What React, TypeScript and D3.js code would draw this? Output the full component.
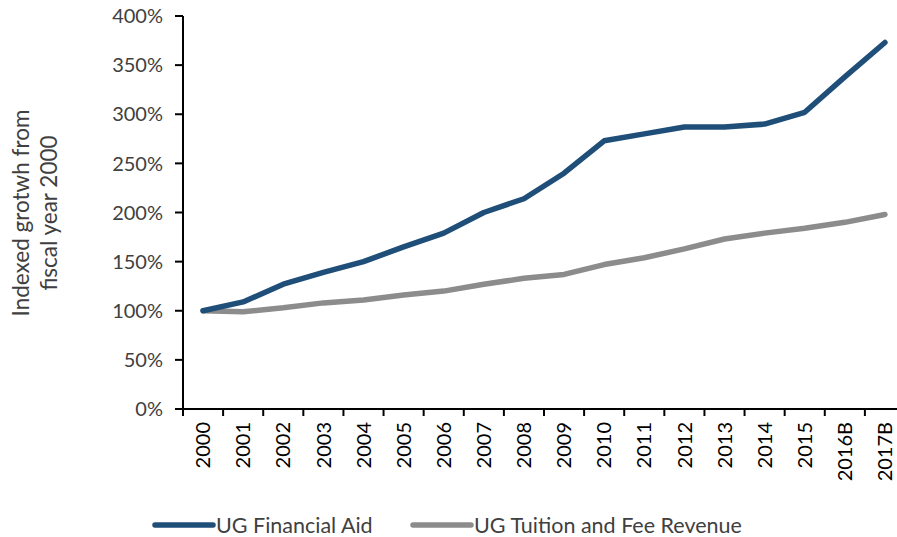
import React from 'react';
import * as d3 from 'd3';

const WIDTH = 897;
const HEIGHT = 537;
const margin = { top: 16, right: -8, bottom: 128, left: 183 };

// fiscal years on the x axis
const years = ['2000', '2001', '2002', '2003', '2004', '2005', '2006', '2007', '2008',
  '2009', '2010', '2011', '2012', '2013', '2014', '2015', '2016B', '2017B'];

// indexed growth, % of FY2000
const financialAid = [100, 109, 127, 139, 150, 165, 179, 200, 214, 240, 273, 280, 287, 287, 290, 302, 338, 373];
const tuitionRevenue = [100, 99, 103, 108, 111, 116, 120, 127, 133, 137, 147, 154, 163, 173, 179, 184, 190, 198];

const yTicks = [0, 50, 100, 150, 200, 250, 300, 350, 400];

const seriesNames = ['UG Financial Aid', 'UG Tuition and Fee Revenue'];
const seriesColors = ['#1F4E79', '#8C8C8C'];

const FONT = 'Lato, "Open Sans", sans-serif';
const TEXT_COLOR = '#404040';

const App = () => {
  const plotW = WIDTH - margin.left - margin.right;
  const plotH = HEIGHT - margin.top - margin.bottom;

  const x = d3.scaleBand().domain(years).range([margin.left, margin.left + plotW]);
  const y = d3.scaleLinear().domain([0, 400]).range([margin.top + plotH, margin.top]);

  const line = d3.line<number>()
    .x((_, i) => (x(years[i]) as number) + x.bandwidth() / 2)
    .y(d => y(d));

  const series = [financialAid, tuitionRevenue];
  const y0 = y(0);

  return (
    <svg width={WIDTH} height={HEIGHT} style={{ position: 'absolute', left: 0, top: 0, background: 'white' }}
      fontFamily={FONT}>
      {/* y axis */}
      <line x1={margin.left} x2={margin.left} y1={y(400)} y2={y0} stroke="#000" strokeWidth={2} />
      {yTicks.map(t => (
        <g key={t}>
          <line x1={margin.left - 8} x2={margin.left} y1={y(t)} y2={y(t)} stroke="#000" strokeWidth={2} />
          <text x={margin.left - 20} y={y(t)} dy="0.36em" textAnchor="end" fontSize={20} fill={TEXT_COLOR}>
            {t}%
          </text>
        </g>
      ))}

      {/* x axis */}
      <line x1={margin.left} x2={margin.left + plotW} y1={y0} y2={y0} stroke="#000" strokeWidth={2} />
      {years.map((yr, i) => {
        const bx = x(yr) as number;
        const cx = bx + x.bandwidth() / 2;
        return (
          <g key={yr}>
            <line x1={bx} x2={bx} y1={y0} y2={y0 + 7} stroke="#000" strokeWidth={2} />
            <text transform={`translate(${cx},${y0 + 13}) rotate(-90)`} dy="0.36em" textAnchor="end"
              fontSize={20} fill="#000">
              {yr}
            </text>
          </g>
        );
      })}

      {/* y axis title */}
      <text transform="translate(21,213) rotate(-90)" dy="0.36em" textAnchor="middle" fontSize={22.5} fill={TEXT_COLOR}>
        Indexed  grotwh from
      </text>
      <text transform="translate(49,213) rotate(-90)" dy="0.36em" textAnchor="middle" fontSize={22.5} fill={TEXT_COLOR}>
        fiscal year 2000
      </text>

      {/* lines: grey under blue */}
      {[1, 0].map(k => (
        <path key={k} d={line(series[k]) || ''} fill="none" stroke={seriesColors[k]} strokeWidth={5.5}
          strokeLinecap="round" strokeLinejoin="round" />
      ))}

      {/* legend */}
      {seriesNames.map((name, k) => {
        const lx = [155, 413][k];
        return (
          <g key={name}>
            <line x1={lx} x2={lx + 58} y1={525} y2={525} stroke={seriesColors[k]} strokeWidth={5.5} strokeLinecap="round" />
            <text x={lx + 61} y={525} dy="0.36em" fontSize={21.5} fill={TEXT_COLOR}>{name}</text>
          </g>
        );
      })}
    </svg>
  );
};

export default App;
